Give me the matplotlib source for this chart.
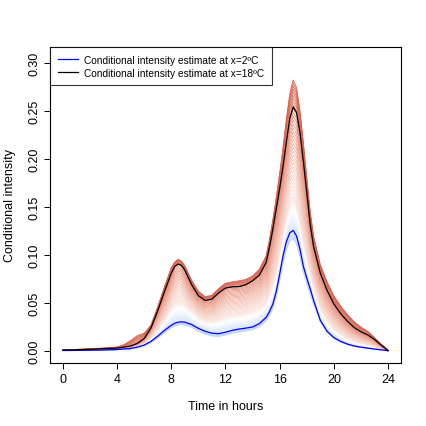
import numpy as np
import matplotlib
matplotlib.use('Agg')
import matplotlib.pyplot as plt
from matplotlib.colors import LinearSegmentedColormap

plt.rcParams['font.family'] = ['Liberation Sans', 'DejaVu Sans']

# ── data ──────────────────────────────────────────────────────────
hours = [0, 1, 2, 3, 4, 4.5, 5, 5.5, 6, 6.5, 7, 7.5, 8, 8.25, 8.5, 8.75, 9,
         9.5, 10, 10.5, 11, 11.5, 12, 12.5, 13, 13.5, 14, 14.5, 15, 15.25,
         15.5, 15.75, 16, 16.25, 16.5, 16.75, 17, 17.25, 17.5, 17.75, 18,
         18.25, 18.5, 19, 19.5, 20, 20.5, 21, 21.5, 22, 22.5, 23, 23.5, 24]

# coldest curve of the family (light blue, bottom edge)
curve_t0 = [0.0004, 0.0005, 0.0007, 0.0009, 0.0013, 0.0017, 0.0022, 0.0034,
            0.0053, 0.0086, 0.0135, 0.0190, 0.0240, 0.0258, 0.0270, 0.0273,
            0.0270, 0.0245, 0.0205, 0.0175, 0.0155, 0.0150, 0.0165, 0.0185,
            0.0198, 0.0208, 0.0220, 0.0250, 0.0310, 0.0365, 0.0440, 0.0560,
            0.0730, 0.0910, 0.1050, 0.1140, 0.1170, 0.1110, 0.0985, 0.0820,
            0.0700, 0.0595, 0.0485, 0.0300, 0.0195, 0.0130, 0.0092, 0.0066,
            0.0048, 0.0036, 0.0027, 0.0018, 0.0011, 0.0003]

# x = 2 C (blue line)
curve_t2 = [0.0005, 0.0006, 0.0008, 0.0010, 0.0015, 0.0020, 0.0026, 0.0040,
            0.0062, 0.0100, 0.0155, 0.0215, 0.0268, 0.0288, 0.0300, 0.0303,
            0.0300, 0.0275, 0.0235, 0.0205, 0.0185, 0.0180, 0.0195, 0.0215,
            0.0228, 0.0238, 0.0250, 0.0285, 0.0350, 0.0410, 0.0490, 0.0620,
            0.0800, 0.0990, 0.1140, 0.1230, 0.1255, 0.1195, 0.1060, 0.0880,
            0.0760, 0.0650, 0.0530, 0.0320, 0.0205, 0.0140, 0.0100, 0.0072,
            0.0052, 0.0040, 0.0030, 0.0020, 0.0012, 0.0003]

# middle of the family (near white)
curve_t10 = [0.0007, 0.0008, 0.0011, 0.0014, 0.0020, 0.0026, 0.0034, 0.0052,
             0.0082, 0.0142, 0.0235, 0.0337, 0.0474, 0.0508, 0.0530, 0.0525,
             0.0505, 0.0433, 0.0364, 0.0327, 0.0320, 0.0342, 0.0370, 0.0387,
             0.0396, 0.0410, 0.0432, 0.0462, 0.0521, 0.0611, 0.0724, 0.0861,
             0.1049, 0.1250, 0.1431, 0.1563, 0.1615, 0.1555, 0.1399, 0.1185,
             0.1009, 0.0851, 0.0698, 0.0467, 0.0333, 0.0245, 0.0187, 0.0143,
             0.0110, 0.0088, 0.0071, 0.0050, 0.0026, 0.0004]

# x = 18 C (black line)
curve_t18 = [0.0010, 0.0012, 0.0018, 0.0024, 0.0030, 0.0040, 0.0052, 0.0080,
             0.0130, 0.0240, 0.0420, 0.0620, 0.0810, 0.0880, 0.0905, 0.0890,
             0.0840, 0.0690, 0.0575, 0.0525, 0.0540, 0.0605, 0.0655, 0.0668,
             0.0670, 0.0690, 0.0730, 0.0790, 0.0920, 0.1080, 0.1270, 0.1480,
             0.1690, 0.1920, 0.2180, 0.2420, 0.2540, 0.2480, 0.2270, 0.1970,
             0.1650, 0.1320, 0.1090, 0.0810, 0.0630, 0.0490, 0.0390, 0.0310,
             0.0245, 0.0200, 0.0168, 0.0120, 0.0060, 0.0005]

# warmest curve of the family (red, top edge)
curve_t21 = [0.0015, 0.0017, 0.0022, 0.0030, 0.0042, 0.0065, 0.0110, 0.0160,
             0.0185, 0.0270, 0.0460, 0.0670, 0.0870, 0.0925, 0.0955, 0.0935,
             0.0885, 0.0735, 0.0620, 0.0565, 0.0580, 0.0650, 0.0705, 0.0720,
             0.0730, 0.0745, 0.0780, 0.0850, 0.0990, 0.1160, 0.1370, 0.1600,
             0.1850, 0.2120, 0.2420, 0.2680, 0.2820, 0.2740, 0.2500, 0.2170,
             0.1810, 0.1460, 0.1200, 0.0900, 0.0720, 0.0575, 0.0470, 0.0380,
             0.0305, 0.0250, 0.0205, 0.0140, 0.0070, 0.0010]

anchor_temps = [0, 2, 10, 18, 21]
xticks = [0, 4, 8, 12, 16, 20, 24]
yticks = [0.00, 0.05, 0.10, 0.15, 0.20, 0.25, 0.30]

# ── plot ──────────────────────────────────────────────────────────
t = np.array(hours)
anchors = np.array([curve_t0, curve_t2, curve_t10, curve_t18, curve_t21])
cmap = LinearSegmentedColormap.from_list(
    'cw', ['#BCD2F7', '#FFFFFF', '#F2B7A6', '#D6604D'], N=256)

fig = plt.figure(figsize=(4.27, 4.27), dpi=100)
ax = fig.add_axes([50/427, 63/427, 351/427, 316/427])

# family of conditional intensity curves, one per temperature
temps = np.arange(0, 21.01, 0.35)
for T in temps:
    y = np.array([np.interp(T, anchor_temps, anchors[:, j]) for j in range(len(t))])
    ax.plot(t, y, color=cmap(T / 21), lw=0.6, zorder=2,
            solid_joinstyle='round')

ax.plot(t, curve_t2, color='#0000FF', lw=0.9, zorder=4, solid_joinstyle='round',
        label='Conditional intensity estimate at x=2ºC')
ax.plot(t, curve_t18, color='black', lw=0.9, zorder=4, solid_joinstyle='round',
        label='Conditional intensity estimate at x=18ºC')

ax.set_xlim(-0.96, 24.96)
ax.set_ylim(-0.0125, 0.3163)
ax.set_xticks(xticks)
ax.set_xticklabels([str(v) for v in xticks])
ax.set_yticks(yticks)
ax.set_yticklabels([f'{v:.2f}' for v in yticks], rotation=90, va='center')
ax.tick_params(direction='out', length=4, width=0.7, labelsize=9, pad=3)
for sp in ax.spines.values():
    sp.set_linewidth(0.8)
ax.set_xlabel('Time in hours', fontsize=9, labelpad=11)
ax.set_ylabel('Conditional intensity', fontsize=9, labelpad=9)

leg = ax.legend(loc='upper left', fontsize=7.3, frameon=True, fancybox=False,
                borderaxespad=0, handlelength=2.0, handletextpad=0.6,
                borderpad=0.75, labelspacing=0.3)
leg.get_frame().set_edgecolor('black')
leg.get_frame().set_linewidth(0.8)

fig.savefig('out.png', dpi=100)
